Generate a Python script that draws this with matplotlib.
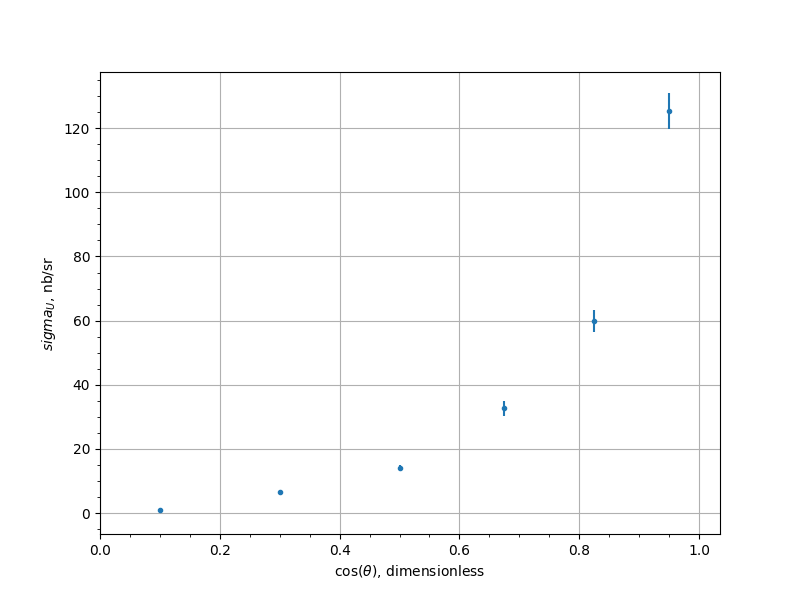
import numpy as np
import matplotlib
matplotlib.use('Agg')
import matplotlib.pyplot as plt

# cos(theta) values and measured cross sections
cos_theta = [0.1, 0.3, 0.5, 0.675, 0.825, 0.95]
sigma_u = [0.9, 6.5, 14.0, 32.7, 59.8, 125.3]
sigma_err = [0.3, 0.5, 1.0, 2.3, 3.4, 5.6]

fig, ax = plt.subplots(figsize=(8, 6), dpi=100)
ax.errorbar(cos_theta, sigma_u, yerr=sigma_err, fmt='.')

ax.set_xlim(0, 1.035)
ax.set_ylim(-6.5, 137.5)
ax.minorticks_on()
ax.grid(True, which='major')
ax.set_xlabel(r'$\cos(\theta)$, dimensionless')
ax.set_ylabel(r'$sigma_U$, nb/sr')

fig.savefig('out.png')
